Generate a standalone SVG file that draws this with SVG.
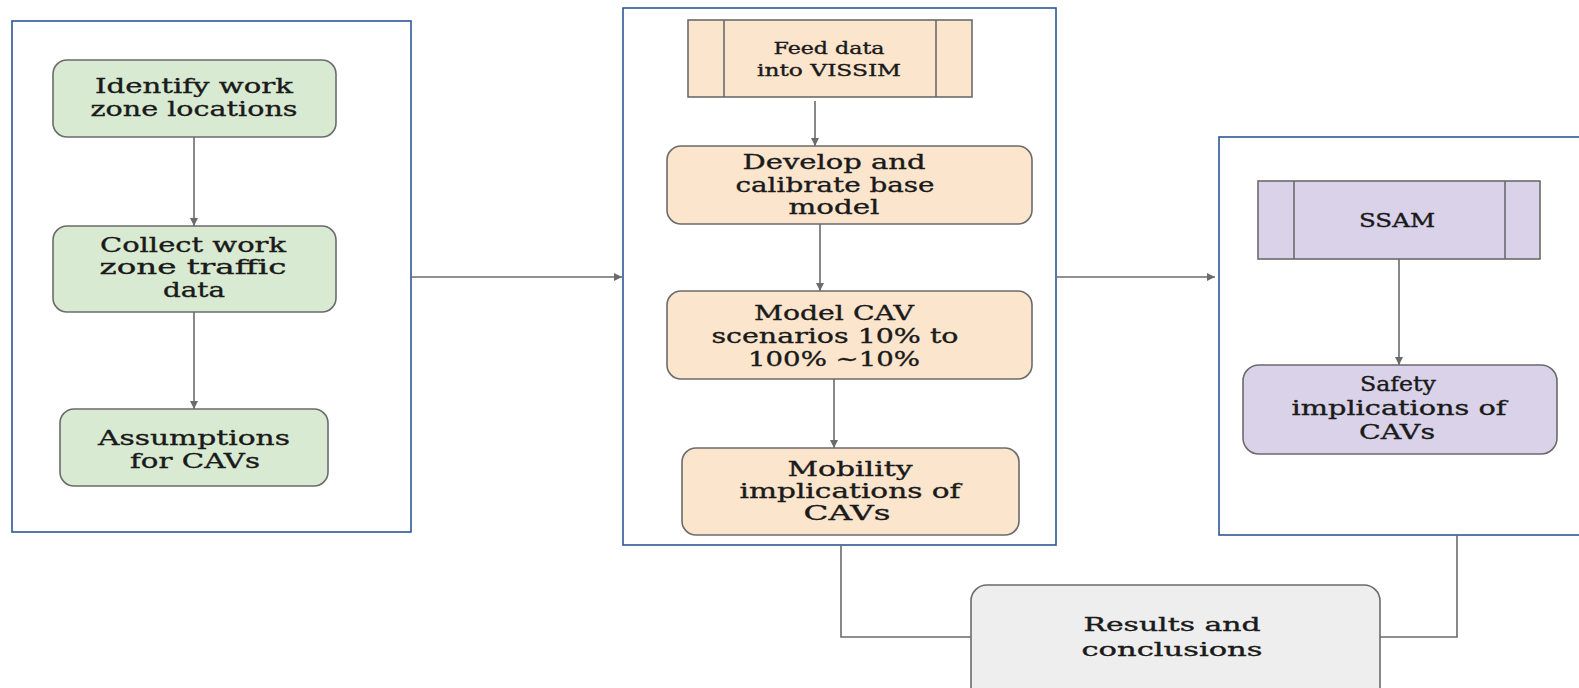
<svg xmlns="http://www.w3.org/2000/svg" width="1579" height="688" viewBox="0 0 1579 688">
<style>
.frame{fill:#ffffff;stroke:#2f5597;stroke-width:1.6}
.box{stroke:#6b6b6b;stroke-width:1.6}
.g{fill:#d9ead3}.o{fill:#fce5cd}.p{fill:#d9d2e9}.gr{fill:#eeeeee}
.t{font-family:"DejaVu Serif","Liberation Serif",serif;fill:#1a1a1a;stroke:#1a1a1a;stroke-width:0.35;text-anchor:middle}
.big{font-size:20px}.mid{font-size:18px}.sm{font-size:16px}
.ln{fill:none;stroke:#6b6b6b;stroke-width:1.6}
</style>
<defs>
<marker id="ah" viewBox="0 0 10 10" refX="10" refY="5" markerWidth="5" markerHeight="5" orient="auto" markerUnits="strokeWidth">
<path d="M0,0 L10,5 L0,10 z" fill="#6b6b6b"/>
</marker>
</defs>
<rect width="1579" height="688" fill="#ffffff"/>
<g id="frames">
<rect id="frame-left" class="frame" x="12" y="21" width="399" height="511"/>
<rect id="frame-mid" class="frame" x="623" y="8" width="433" height="537"/>
<rect id="frame-right" class="frame" x="1219" y="137" width="400" height="398"/>
</g>
<g id="connectors">
<line class="ln" x1="194" y1="137" x2="194" y2="226" marker-end="url(#ah)"/>
<line class="ln" x1="194" y1="312" x2="194" y2="409" marker-end="url(#ah)"/>
<line class="ln" x1="815" y1="101" x2="815" y2="146" marker-end="url(#ah)"/>
<line class="ln" x1="820" y1="224" x2="820" y2="291" marker-end="url(#ah)"/>
<line class="ln" x1="834" y1="379" x2="834" y2="448" marker-end="url(#ah)"/>
<line class="ln" x1="1399" y1="259" x2="1399" y2="365" marker-end="url(#ah)"/>
<line class="ln" x1="411" y1="277" x2="622" y2="277" marker-end="url(#ah)"/>
<line class="ln" x1="1056" y1="277" x2="1215" y2="277" marker-end="url(#ah)"/>
<polyline class="ln" points="841,545 841,637 971,637"/>
<polyline class="ln" points="1380,637 1457,637 1457,535"/>
</g>
<g id="identify">
<rect class="box g" x="53" y="60" width="283" height="77" rx="14"/>
<text class="t big" x="194" y="93" textLength="198" lengthAdjust="spacingAndGlyphs">Identify work</text>
<text class="t big" x="194" y="116" textLength="207" lengthAdjust="spacingAndGlyphs">zone locations</text>
</g>
<g id="collect">
<rect class="box g" x="53" y="226" width="283" height="86" rx="14"/>
<text class="t big" x="193" y="252" textLength="186" lengthAdjust="spacingAndGlyphs">Collect work</text>
<text class="t big" x="193" y="274" textLength="187" lengthAdjust="spacingAndGlyphs">zone traffic</text>
<text class="t big" x="194" y="297" textLength="62" lengthAdjust="spacingAndGlyphs">data</text>
</g>
<g id="assumptions">
<rect class="box g" x="60" y="409" width="268" height="77" rx="14"/>
<text class="t big" x="194" y="445" textLength="192" lengthAdjust="spacingAndGlyphs">Assumptions</text>
<text class="t big" x="195" y="468" textLength="130" lengthAdjust="spacingAndGlyphs">for CAVs</text>
</g>
<g id="feed">
<rect class="box o" x="688" y="20" width="284" height="77"/>
<line class="box" x1="724" y1="20" x2="724" y2="97"/>
<line class="box" x1="936" y1="20" x2="936" y2="97"/>
<text class="t sm" x="829" y="54" textLength="111" lengthAdjust="spacingAndGlyphs">Feed data</text>
<text class="t sm" x="829" y="76" textLength="144" lengthAdjust="spacingAndGlyphs">into VISSIM</text>
</g>
<g id="develop">
<rect class="box o" x="667" y="146" width="365" height="78" rx="14"/>
<text class="t big" x="834" y="169" textLength="183" lengthAdjust="spacingAndGlyphs">Develop and</text>
<text class="t big" x="835" y="192" textLength="199" lengthAdjust="spacingAndGlyphs">calibrate base</text>
<text class="t big" x="834" y="214" textLength="91" lengthAdjust="spacingAndGlyphs">model</text>
</g>
<g id="model">
<rect class="box o" x="667" y="291" width="365" height="88" rx="14"/>
<text class="t big" x="834" y="320" textLength="160" lengthAdjust="spacingAndGlyphs">Model CAV</text>
<text class="t big" x="835" y="343" textLength="247" lengthAdjust="spacingAndGlyphs">scenarios 10% to</text>
<text class="t big" x="834" y="366" textLength="172" lengthAdjust="spacingAndGlyphs">100% ~10%</text>
</g>
<g id="mobility">
<rect class="box o" x="682" y="448" width="337" height="87" rx="14"/>
<text class="t big" x="850" y="476" textLength="125" lengthAdjust="spacingAndGlyphs">Mobility</text>
<text class="t big" x="850" y="498" textLength="221" lengthAdjust="spacingAndGlyphs">implications of</text>
<text class="t big" x="847" y="520" textLength="87" lengthAdjust="spacingAndGlyphs">CAVs</text>
</g>
<g id="ssam">
<rect class="box p" x="1258" y="181" width="282" height="78"/>
<line class="box" x1="1294" y1="181" x2="1294" y2="259"/>
<line class="box" x1="1505" y1="181" x2="1505" y2="259"/>
<text class="t mid" x="1397" y="227" textLength="76" lengthAdjust="spacingAndGlyphs">SSAM</text>
</g>
<g id="safety">
<rect class="box p" x="1243" y="365" width="314" height="89" rx="16"/>
<text class="t big" x="1398" y="391" textLength="76" lengthAdjust="spacingAndGlyphs">Safety</text>
<text class="t big" x="1399" y="415" textLength="215" lengthAdjust="spacingAndGlyphs">implications of</text>
<text class="t big" x="1397" y="439" textLength="76" lengthAdjust="spacingAndGlyphs">CAVs</text>
</g>
<g id="results">
<rect class="box gr" x="971" y="585" width="409" height="120" rx="16"/>
<text class="t mid" x="1172" y="631" textLength="177" lengthAdjust="spacingAndGlyphs">Results and</text>
<text class="t mid" x="1172" y="656" textLength="181" lengthAdjust="spacingAndGlyphs">conclusions</text>
</g>
</svg>
